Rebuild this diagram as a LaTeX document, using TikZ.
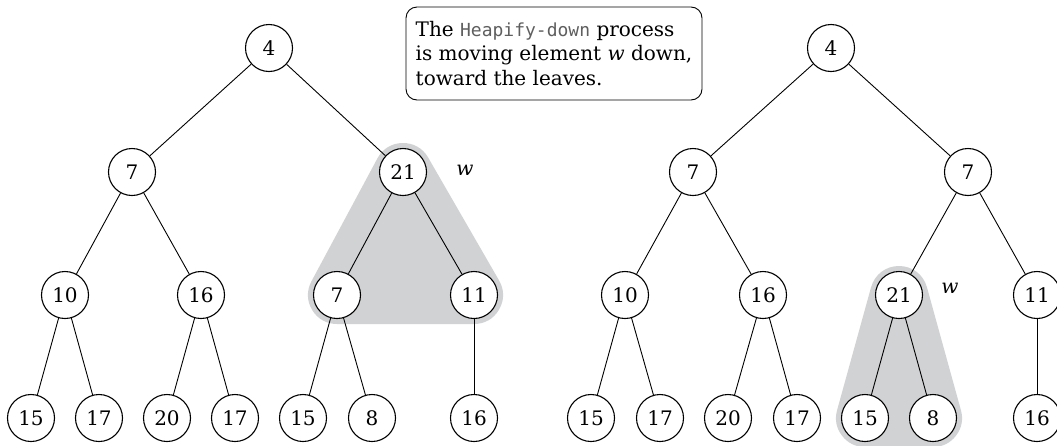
\documentclass[tikz,border=0pt]{standalone}
\usepackage{fontspec}
\setmainfont{DejaVu Serif}
\setmonofont{DejaVu Sans Mono}
\usetikzlibrary{backgrounds}
\definecolor{shadegray}{RGB}{209,210,212}
\definecolor{monogray}{RGB}{95,95,95}
\tikzset{
  hn/.style={circle, draw, fill=white, line width=1.1pt, minimum size=47pt, inner sep=0pt, font=\fontsize{20}{22}\selectfont},
  edge/.style={line width=0.9pt},
  hull/.style={fill=shadegray, draw=shadegray, line width=58pt, line join=round},
  notebox/.style={draw, fill=white, rounded corners=11pt, line width=0.9pt, minimum width=296pt, minimum height=93pt, align=left, inner sep=0pt, font=\fontsize{20}{24.5}\selectfont},
  wlab/.style={font=\fontsize{20}{22}\selectfont\itshape}
}
\begin{document}
\begin{tikzpicture}[x=1pt,y=-1pt]
\clip (0,0) rectangle (1057,445);
% left tree
\node[hn] (a1) at (269,48) {4};
\node[hn] (a2) at (132,172) {7};
\node[hn] (a3) at (403,172) {21};
\node[hn] (a4) at (65,295) {10};
\node[hn] (a5) at (201,295) {16};
\node[hn] (a6) at (337,295) {7};
\node[hn] (a7) at (474,295) {11};
\node[hn] (a8) at (31,418) {15};
\node[hn] (a9) at (99,418) {17};
\node[hn] (a10) at (167,418) {20};
\node[hn] (a11) at (235,418) {17};
\node[hn] (a12) at (303,418) {15};
\node[hn] (a13) at (372,418) {8};
\node[hn] (a14) at (474,418) {16};
\node[wlab] (aw) at (465,170) {w};
% right tree
\node[hn] (b1) at (831,48) {4};
\node[hn] (b2) at (693,172) {7};
\node[hn] (b3) at (968,172) {7};
\node[hn] (b4) at (625,295) {10};
\node[hn] (b5) at (763,295) {16};
\node[hn] (b6) at (899,295) {21};
\node[hn] (b7) at (1037,295) {11};
\node[hn] (b8) at (591,418) {15};
\node[hn] (b9) at (660,418) {17};
\node[hn] (b10) at (728,418) {20};
\node[hn] (b11) at (797,418) {17};
\node[hn] (b12) at (865,418) {15};
\node[hn] (b13) at (933,418) {8};
\node[hn] (b14) at (1037,418) {16};
\node[wlab] (bw) at (950,288) {w};
% note
\node[notebox] (note) at (554,53.5) {The {\ttfamily\color{monogray}\fontsize{18}{24.5}\selectfont Heapify-down} process\\is moving element \textit{w} down,\\toward the leaves.};
% shading
\begin{scope}[on background layer]
\filldraw[hull] (a3.center) -- (a6.center) -- (a7.center) -- cycle;
\filldraw[hull] (b6.center) -- (b12.center) -- (b13.center) -- cycle;
\end{scope}
% edges
\begin{scope}[on background layer]
\draw[edge] (a1) -- (a2);
\draw[edge] (a1) -- (a3);
\draw[edge] (a2) -- (a4);
\draw[edge] (a2) -- (a5);
\draw[edge] (a3) -- (a6);
\draw[edge] (a3) -- (a7);
\draw[edge] (a4) -- (a8);
\draw[edge] (a4) -- (a9);
\draw[edge] (a5) -- (a10);
\draw[edge] (a5) -- (a11);
\draw[edge] (a6) -- (a12);
\draw[edge] (a6) -- (a13);
\draw[edge] (a7) -- (a14);
\draw[edge] (b1) -- (b2);
\draw[edge] (b1) -- (b3);
\draw[edge] (b2) -- (b4);
\draw[edge] (b2) -- (b5);
\draw[edge] (b3) -- (b6);
\draw[edge] (b3) -- (b7);
\draw[edge] (b4) -- (b8);
\draw[edge] (b4) -- (b9);
\draw[edge] (b5) -- (b10);
\draw[edge] (b5) -- (b11);
\draw[edge] (b6) -- (b12);
\draw[edge] (b6) -- (b13);
\draw[edge] (b7) -- (b14);
\end{scope}
\end{tikzpicture}
\end{document}
